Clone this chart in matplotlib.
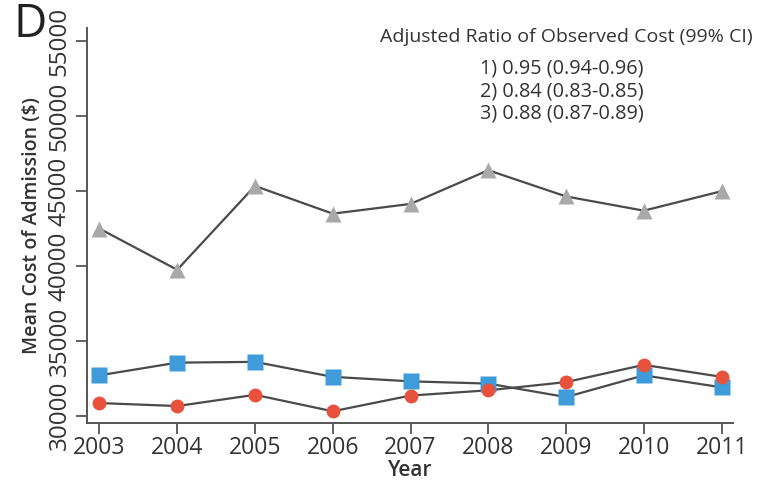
import matplotlib
matplotlib.use("Agg")
import matplotlib.pyplot as plt

plt.rcParams['font.family'] = ['Open Sans', 'DejaVu Sans']

years = [2003, 2004, 2005, 2006, 2007, 2008, 2009, 2010, 2011]
cost_gray = [42500, 39750, 45350, 43500, 44150, 46400, 44650, 43700, 45000]
cost_blue = [32700, 33550, 33600, 32600, 32300, 32150, 31250, 32700, 31900]
cost_red = [30850, 30650, 31400, 30300, 31350, 31700, 32250, 33400, 32600]
y_ticks = [30000, 35000, 40000, 45000, 50000, 55000]
ratio_title = "Adjusted Ratio of Observed Cost (99% CI)"
ratio_lines = ["1) 0.95 (0.94-0.96)", "2) 0.84 (0.83-0.85)", "3) 0.88 (0.87-0.89)"]

text_col = "#333333"
line_col = "#4a4a4a"

fig = plt.figure(figsize=(7.63, 4.83), dpi=100)
ax = fig.add_axes([0.114, 0.124, 0.847, 0.818])

ax.plot(years, cost_gray, color=line_col, lw=1.6, zorder=2)
ax.plot(years, cost_gray, ls='none', marker='^', ms=11, color='#a9a9a9',
        mec='none', zorder=3)
ax.plot(years, cost_blue, color=line_col, lw=1.6, zorder=2)
ax.plot(years, cost_blue, ls='none', marker='s', ms=11, color='#3f9bd9',
        mec='none', zorder=3)
ax.plot(years, cost_red, color=line_col, lw=1.6, zorder=2)
ax.plot(years, cost_red, ls='none', marker='o', ms=10, color='#e8513c',
        mec='none', zorder=4)

ax.set_xlim(2002.84, 2011.15)
ax.set_ylim(29510, 55900)
ax.set_xticks(years)
ax.set_xticklabels([str(y) for y in years], fontsize=16.5)
ax.set_yticks(y_ticks)
ax.set_yticklabels([str(v) for v in y_ticks], rotation=90, va='center',
                   fontsize=17.5)

for s in ['top', 'right']:
    ax.spines[s].set_visible(False)
for s in ['left', 'bottom']:
    ax.spines[s].set_color('#555555')
    ax.spines[s].set_linewidth(1.4)

ax.tick_params(axis='both', colors='#555555', width=1.3, length=8,
               labelcolor=text_col)
ax.tick_params(axis='x', pad=1)
ax.tick_params(axis='y', pad=3)

ax.set_xlabel("Year", fontsize=15, color=text_col, fontweight='semibold', labelpad=0)
ax.set_ylabel("Mean Cost of Admission ($)", fontsize=14, color=text_col,
              fontweight='semibold', labelpad=4)

fig.text(0.018, 0.995, "D", fontsize=33, color='#222222', ha='left', va='top')

fig.text(0.498, 0.923, ratio_title, fontsize=14, color=text_col,
         ha='left', va='center')
for i, line in enumerate(ratio_lines):
    fig.text(0.629, 0.859 - i * 0.0475, line, fontsize=14.3, color=text_col,
             ha='left', va='center')

fig.savefig("out.png", dpi=100)
